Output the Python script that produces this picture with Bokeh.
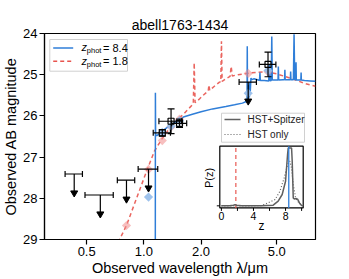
import numpy as np
from bokeh.plotting import figure
from bokeh.models import Range1d, FixedTicker, CustomJSTickFormatter, LinearScale
from bokeh.core.properties import value
from bokeh.embed import file_html
from bokeh.resources import INLINE

FONT = "Liberation Sans"

# ---------------- data ----------------
title_text = "abell1763-1434"
zphot_blue = 8.4
zphot_red = 1.8

# detected photometry (um, AB mag)
det_lam = [1.25, 1.39, 1.54, 4.50]
det_mag = [26.41, 26.13, 26.18, 24.75]
det_xerr = [0.13, 0.19, 0.14, 0.45]
det_yerr = [0.08, 0.30, 0.10, 0.30]

# upper limits
lim_lam = [0.43, 0.59, 0.81, 1.058, 3.54]
lim_mag = [27.41, 27.92, 27.56, 27.29, 25.18]
lim_xerr = [0.045, 0.10, 0.085, 0.125, 0.37]

# model photometry
bphot_lam = [1.058, 1.25, 1.39, 1.54, 3.54, 4.50]
bphot_mag = [27.97, 26.40, 26.25, 26.12, 25.45, 24.90]
rphot_lam = [0.81, 1.058, 1.25, 1.39, 1.54, 3.54, 4.50]
rphot_mag = [28.66, 27.30, 26.60, 26.27, 26.08, 24.97, 24.93]

# SED z=8.4 (blue)
blue_lam = [1.148, 1.150, 1.153, 1.17, 1.20, 1.25, 1.30, 1.39, 1.50, 1.63,
            1.80, 2.00, 2.30, 2.70, 3.00, 3.30, 3.46, 3.49, 3.50, 3.51,
            3.53, 3.55, 3.57, 3.59, 3.61, 3.63, 3.66, 3.70, 3.80, 4.00,
            4.06, 4.08, 4.10, 4.30, 4.54, 4.57, 4.60, 4.68, 4.71, 4.74,
            4.90, 5.08, 5.10, 5.12, 5.40, 5.50, 5.52, 5.54, 5.80, 5.90,
            5.92, 5.94, 6.12, 6.17, 6.22, 6.30, 6.32, 6.34, 6.60, 6.70,
            6.72, 6.74, 7.00, 7.50, 8.00]
blue_mag = [31.0, 25.44, 26.45, 26.48, 26.44, 26.38, 26.31, 26.22, 26.12, 26.02,
            25.96, 25.90, 25.83, 25.77, 25.73, 25.69, 25.65, 25.64, 24.31, 25.62,
            25.35, 25.60, 25.25, 25.55, 25.18, 25.40, 25.08, 25.12, 25.10, 25.13,
            25.14, 24.95, 25.14, 25.14, 25.15, 24.75, 25.15, 25.14, 24.07, 25.13,
            25.13, 25.13, 24.80, 25.13, 25.12, 25.12, 24.88, 25.12, 25.12, 25.12,
            24.92, 25.12, 25.12, 24.02, 25.12, 25.12, 24.70, 25.13, 25.13, 25.13,
            24.95, 25.13, 25.14, 25.15, 25.16]

# SED z=1.8 (red)
red_lam = [0.70, 0.745, 0.81, 0.90, 1.00, 1.05, 1.135, 1.24, 1.39, 1.50,
           1.61, 1.70, 1.80, 1.82, 1.84, 1.86, 1.95, 2.05, 2.15, 2.18,
           2.20, 2.22, 2.35, 2.50, 2.54, 2.56, 2.58, 2.70, 2.84, 2.88,
           2.92, 3.13, 3.60, 4.00, 4.40, 5.00, 5.50, 6.20, 7.00, 8.00]
red_mag = [29.4, 29.0, 28.66, 28.09, 27.52, 27.26, 26.86, 26.57, 26.25, 26.08,
           25.97, 25.85, 25.73, 25.70, 24.71, 25.68, 25.60, 25.50, 25.42, 25.40,
           25.25, 25.38, 25.28, 25.18, 25.17, 24.19, 25.16, 25.10, 25.04, 24.80,
           25.03, 25.00, 24.96, 24.94, 24.93, 24.98, 25.04, 25.12, 25.21, 25.28]

# P(z)
pz_spz_z = [0.0, 1.0, 1.5, 1.7, 1.9, 2.5, 5.0, 6.46, 7.08, 7.58, 8.0, 8.25, 8.33,
            8.5, 8.75, 8.83, 8.96, 9.1, 9.3, 9.5, 9.75, 10.0, 10.2]
pz_spz_p = [0.035, 0.035, 0.045, 0.055, 0.045, 0.035, 0.035, 0.046, 0.114, 0.228,
            0.454, 0.909, 1.02, 1.02, 1.02, 0.795, 0.17, 0.15, 0.16, 0.15, 0.08,
            0.04, 0.035]
pz_hst_z = [0.0, 2.0, 4.0, 5.0, 5.8, 6.7, 7.3, 7.83, 8.25, 8.54, 8.75, 8.96, 9.25,
            9.67, 10.1]
pz_hst_p = [0.035, 0.035, 0.035, 0.04, 0.085, 0.142, 0.284, 0.51, 0.74, 0.795,
            0.68, 0.397, 0.17, 0.085, 0.045]

inset_xticks = [0, 2, 4, 6, 8, 10]
inset_xlabels = ["0", "", "4", "", "8", ""]

# ---------------- styles ----------------
BLUE = "#2f7ed8"
RED = "#e8544e"
GREY = "#606060"

FW, FH = 271, 206                 # reference frame size (pixel coords for decorations)
# inset box in frame-pixel coords (x from left, y from top)
IN_L, IN_R, IN_T, IN_B = 175.3, 258.7, 112.7, 174.4
Z_LO, Z_HI = -0.2, 10.2
P_LO, P_HI = 0.0, 1.05
zs = (Z_HI - Z_LO) / (IN_R - IN_L)
ps = (P_HI - P_LO) / (IN_B - IN_T)
zx_range = Range1d(Z_LO - IN_L * zs, Z_HI + (FW - IN_R) * zs)
pz_range = Range1d(P_LO - (FH - IN_B) * ps, P_HI + IN_T * ps)

p = figure(frame_width=FW, frame_height=FH, x_axis_type="log",
           x_range=Range1d(0.3, 8.0), y_range=Range1d(29, 24),
           output_backend="svg", toolbar_location=None, title=title_text,
           min_border_left=0, min_border_right=18, min_border_top=33,
           min_border_bottom=0, background_fill_color="white",
           border_fill_color="white")
p.extra_x_ranges = {"fx": Range1d(0, FW), "zx": zx_range}
p.extra_y_ranges = {"fy": Range1d(FH, 0), "pz": pz_range}
p.extra_x_scales = {"fx": LinearScale(), "zx": LinearScale()}
p.extra_y_scales = {"fy": LinearScale(), "pz": LinearScale()}

p.title.text_font = FONT
p.title.text_font_size = "14px"
p.title.text_font_style = "normal"
p.title.align = "center"
p.title.standoff = 2
p.title.text_color = "black"

p.xgrid.visible = False
p.ygrid.visible = False
p.outline_line_color = "black"
p.outline_line_width = 1.2

p.xaxis.ticker = FixedTicker(ticks=[0.5, 1.0, 2.0, 5.0], minor_ticks=[])
p.xaxis.formatter = CustomJSTickFormatter(code="return tick.toFixed(1);")
p.yaxis.ticker = FixedTicker(ticks=[24, 25, 26, 27, 28, 29], minor_ticks=[])
p.xaxis.axis_label = "Observed wavelength λ/μm"
p.yaxis.axis_label = "Observed AB magnitude"
for ax in (p.xaxis, p.yaxis):
    ax.axis_label_text_font = FONT
    ax.axis_label_text_font_size = "14.5px"
    ax.axis_label_text_font_style = "normal"
    ax.axis_label_text_color = "black"
    ax.axis_label_standoff = 1
    ax.major_label_text_font = FONT
    ax.major_label_text_font_size = "13px"
    ax.major_label_text_color = "black"
    ax.major_label_standoff = 2
    ax.major_tick_out = 5
    ax.major_tick_in = 0
    ax.minor_tick_out = 0
    ax.minor_tick_in = 0
    ax.axis_line_color = "black"
    ax.axis_line_width = 1.2
    ax.major_tick_line_width = 1.2
    ax.major_tick_line_color = "black"

# ---------------- SEDs ----------------
p.line(red_lam, red_mag, line_color=RED, line_width=1.5, line_dash="4 3", line_alpha=0.9)
p.line(blue_lam, blue_mag, line_color=BLUE, line_width=1.5)

p.scatter(rphot_lam, rphot_mag, marker="square", angle=np.pi / 4, size=6.5,
          fill_color="#f08a8a", fill_alpha=0.55, line_color=None)
p.scatter(bphot_lam, bphot_mag, marker="square", angle=np.pi / 4, size=6.5,
          fill_color="#93bbea", fill_alpha=0.9, line_color=None)

# ---------------- photometry ----------------
dl = np.array(det_lam); dm = np.array(det_mag)
dxe = np.array(det_xerr); dye = np.array(det_yerr)
p.segment(dl - dxe, dm, dl + dxe, dm, line_color="black", line_width=1.2)
p.segment(dl, dm - dye, dl, dm + dye, line_color="black", line_width=1.2)
p.scatter(np.concatenate([dl - dxe, dl + dxe]), np.concatenate([dm, dm]),
          marker="dash", angle=np.pi / 2, size=6, line_color="black", line_width=1.2)
p.scatter(np.concatenate([dl, dl]), np.concatenate([dm - dye, dm + dye]),
          marker="dash", size=7, line_color="black", line_width=1.2)
p.scatter(dl, dm, marker="square", size=6, fill_color=None,
          line_color="black", line_width=1.2)

ll = np.array(lim_lam); lm = np.array(lim_mag); lxe = np.array(lim_xerr)
p.segment(ll - lxe, lm, ll + lxe, lm, line_color="black", line_width=1.2)
p.scatter(np.concatenate([ll - lxe, ll + lxe]), np.concatenate([lm, lm]),
          marker="dash", angle=np.pi / 2, size=6, line_color="black", line_width=1.2)
p.segment(ll, lm, ll, lm + 0.42, line_color="black", line_width=1.2)
p.scatter(ll, lm + 0.46, marker="inverted_triangle", size=7,
          fill_color="black", line_color="black")

# ---------------- legend 1 ----------------
p.quad(left=[5.3], right=[83], top=[6], bottom=[37.7], x_range_name="fx",
       y_range_name="fy", fill_color="white", fill_alpha=0.85,
       line_color="#d0d0d0", line_width=1)
p.segment([8.7], [14.4], [28.7], [14.4], x_range_name="fx", y_range_name="fy",
          line_color=BLUE, line_width=1.5)
p.segment([8.7], [27.7], [28.7], [27.7], x_range_name="fx", y_range_name="fy",
          line_color=RED, line_width=1.5, line_dash="4 3")
p.text(x=[37, 37], y=[13.8, 27.1], text=["z", "z"], x_range_name="fx", y_range_name="fy",
       text_font=value(FONT), text_font_size=value("11px"), text_font_style="italic",
       text_baseline="middle", text_align="left", text_color="black")
p.text(x=[42.3, 42.3], y=[17.2, 30.5], text=["phot", "phot"], x_range_name="fx",
       y_range_name="fy", text_font=value(FONT), text_font_size=value("7.5px"),
       text_baseline="middle", text_align="left", text_color="black")
p.text(x=[58.5, 58.5], y=[14.0, 27.3],
       text=["= %.1f" % zphot_blue, "= %.1f" % zphot_red], x_range_name="fx",
       y_range_name="fy", text_font=value(FONT), text_font_size=value("11px"),
       text_baseline="middle", text_align="left", text_color="black")

# ---------------- legend 2 ----------------
p.quad(left=[177], right=[260], top=[79.7], bottom=[108.7], x_range_name="fx",
       y_range_name="fy", fill_color="white", fill_alpha=0.85,
       line_color="#d0d0d0", line_width=1)
p.segment([180], [86], [196], [86], x_range_name="fx", y_range_name="fy",
          line_color=GREY, line_width=1.5)
p.segment([180], [101], [196], [101], x_range_name="fx", y_range_name="fy",
          line_color=GREY, line_width=1.2, line_dash="1 2")
p.text(x=[203, 203], y=[86, 101], text=["HST+Spitzer", "HST only"],
       x_range_name="fx", y_range_name="fy", text_font=value(FONT),
       text_font_size=value("10px"), text_baseline="middle", text_align="left",
       text_color="#222222")

# ---------------- inset P(z) ----------------
p.quad(left=[Z_LO], right=[Z_HI], bottom=[P_LO], top=[P_HI], x_range_name="zx",
       y_range_name="pz", fill_color="white", line_color="black", line_width=1.2)
p.segment([zphot_red], [P_LO], [zphot_red], [P_HI], x_range_name="zx",
          y_range_name="pz", line_color=RED, line_width=1.3, line_dash="4 3",
          line_alpha=0.9)
p.line(pz_hst_z, pz_hst_p, x_range_name="zx", y_range_name="pz",
       line_color=GREY, line_width=1.2, line_dash="1 2")
p.line(pz_spz_z, pz_spz_p, x_range_name="zx", y_range_name="pz",
       line_color=GREY, line_width=1.5)
p.segment([zphot_blue], [P_LO], [zphot_blue], [P_HI], x_range_name="zx",
          y_range_name="pz", line_color=BLUE, line_width=1.3)
tick_len = 3 * ps
p.segment(inset_xticks, [P_LO] * len(inset_xticks), inset_xticks,
          [P_LO - tick_len] * len(inset_xticks), x_range_name="zx",
          y_range_name="pz", line_color="black", line_width=1.0)
p.segment([Z_LO], [0.035], [Z_LO - 3 * zs], [0.035], x_range_name="zx",
          y_range_name="pz", line_color="black", line_width=1.0)
p.text(x=inset_xticks, y=[P_LO - tick_len - 1.5 * ps] * len(inset_xticks),
       text=inset_xlabels, x_range_name="zx", y_range_name="pz",
       text_font=value(FONT), text_font_size=value("10.5px"), text_baseline="top",
       text_align="center", text_color="black")
p.text(x=[217], y=[192], text=["z"], x_range_name="fx", y_range_name="fy",
       text_font=value(FONT), text_font_size=value("12px"), text_baseline="middle",
       text_align="center", text_color="black")
p.text(x=[164.5], y=[144.4], text=["P(z)"], x_range_name="fx", y_range_name="fy",
       angle=np.pi / 2, text_font=value(FONT), text_font_size=value("11px"),
       text_baseline="middle", text_align="center", text_color="black")

open("out.html", "w").write(file_html(p, INLINE))
